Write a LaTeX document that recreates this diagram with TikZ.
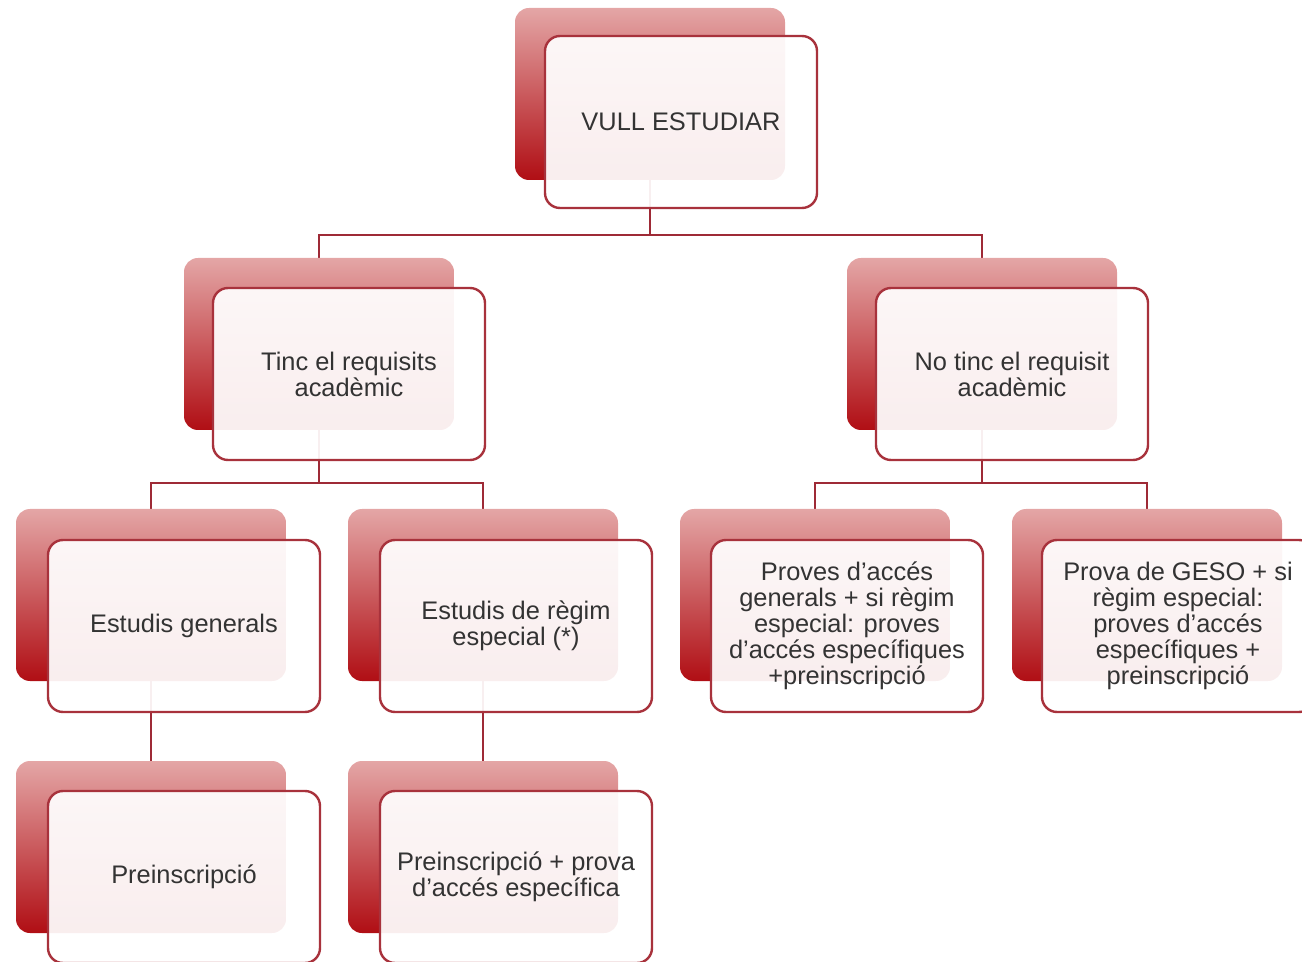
\documentclass[tikz,border=0pt]{standalone}
\usepackage{fontspec}
\setmainfont{Liberation Sans}
\pgfdeclarelayer{bg}
\pgfsetlayers{bg,main}
\definecolor{lineRed}{HTML}{9E2A36}
\definecolor{frameRed}{HTML}{A8323C}
\definecolor{backTop}{HTML}{E4A6A6}
\definecolor{backBot}{HTML}{B00E14}
\definecolor{txt}{HTML}{333333}
\tikzset{
 backbox/.style={rounded corners=7pt, minimum width=135pt, minimum height=86pt, inner sep=0pt, top color=backTop, bottom color=backBot, draw=none},
 frontbox/.style={rounded corners=7.5pt, minimum width=136pt, minimum height=86pt, inner sep=0pt, draw=frameRed, line width=1.2pt, fill=white, fill opacity=0.93, draw opacity=1, text opacity=1, text=txt, align=center, font=\fontsize{12.7}{13}\selectfont},
 conn/.style={draw=lineRed, line width=1.4pt}
}
\begin{document}
\begin{tikzpicture}[x=0.5pt,y=-0.5pt]
\useasboundingbox (0,0) rectangle (1302,962);
% back shapes
\node[backbox] (b0) at (650,94) {};
\node[backbox] (b1) at (319,344) {};
\node[backbox] (b2) at (982,344) {};
\node[backbox] (b11) at (151,595) {};
\node[backbox] (b12) at (483,595) {};
\node[backbox] (b21) at (815,595) {};
\node[backbox] (b22) at (1147,595) {};
\node[backbox] (b111) at (151,847) {};
\node[backbox] (b121) at (483,847) {};
% front shapes
\node[frontbox] (f0) at (681,122) {VULL ESTUDIAR};
\node[frontbox] (f1) at (349,374) {Tinc el requisits\\acadèmic};
\node[frontbox] (f2) at (1012,374) {No tinc el requisit\\acadèmic};
\node[frontbox] (f11) at (184,626) {Estudis generals};
\node[frontbox] (f12) at (516,626) {Estudis de règim\\especial (*)};
\node[frontbox] (f21) at (847,626) {Proves d’accés\\generals + si règim\\especial: proves\\d’accés específiques\\+preinscripció};
\node[frontbox] (f22) at (1178,626) {Prova de GESO + si\\règim especial:\\proves d’accés\\específiques +\\preinscripció};
\node[frontbox] (f111) at (184,877) {Preinscripció};
\node[frontbox] (f121) at (516,877) {Preinscripció + prova\\d’accés específica};
% connectors
\coordinate (j0) at (650,235);
\coordinate (j1) at (319,483);
\coordinate (j2) at (982,483);
\begin{pgfonlayer}{bg}
\draw[conn] (b0.south) -- (j0) -| (b1.north);
\draw[conn] (j0) -| (b2.north);
\draw[conn] (b1.south) -- (j1) -| (b11.north);
\draw[conn] (j1) -| (b12.north);
\draw[conn] (b2.south) -- (j2) -| (b21.north);
\draw[conn] (j2) -| (b22.north);
\draw[conn] (b11.south) -- (b111.north);
\draw[conn] (b12.south) -- (b121.north);
\end{pgfonlayer}
\end{tikzpicture}
\end{document}
